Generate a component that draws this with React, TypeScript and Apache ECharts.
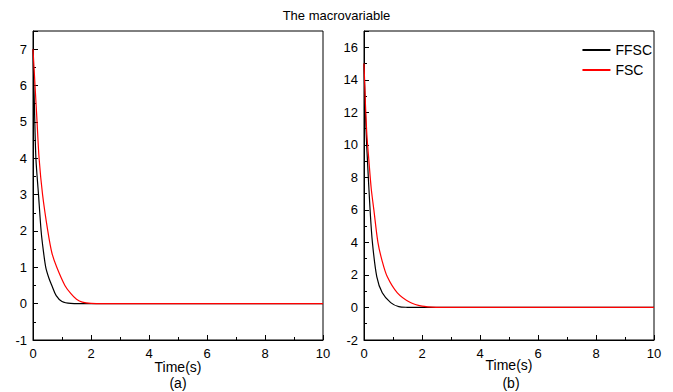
import React, { useEffect, useRef } from "react";
import * as echarts from "echarts";

const titleText = "The macrovariable";
const seriesNames = ["FFSC", "FSC"];

// Panel (a): time (s), value
const ffscA: [number, number][] = [
  [0, 7], [0.05, 5.4], [0.1, 4.0], [0.19, 3.0], [0.28, 2.0], [0.35, 1.5], [0.44, 1.0],
  [0.55, 0.7], [0.65, 0.5], [0.8, 0.22], [1.0, 0.06], [1.3, 0.01], [2, 0], [10, 0],
];
const fscA: [number, number][] = [
  [0, 7], [0.07, 6.0], [0.14, 5.0], [0.21, 4.0], [0.33, 3.0], [0.51, 2.0], [0.65, 1.4],
  [0.82, 1.0], [1.1, 0.5], [1.3, 0.28], [1.5, 0.12], [1.7, 0.04], [2, 0.01], [3, 0], [10, 0],
];

// Panel (b)
const ffscB: [number, number][] = [
  [0, 15], [0.04, 12.5], [0.08, 10.5], [0.12, 9.0], [0.21, 6.0], [0.29, 4.0], [0.44, 1.9],
  [0.63, 0.9], [0.92, 0.3], [1.2, 0.05], [1.5, 0.01], [2, 0], [10, 0],
];
const fscB: [number, number][] = [
  [0, 15], [0.05, 12.5], [0.1, 10.6], [0.17, 9.0], [0.25, 7.3], [0.34, 6.0], [0.48, 4.0],
  [0.62, 2.9], [0.8, 1.9], [1.15, 0.9], [1.6, 0.3], [2.0, 0.08], [2.5, 0.01], [3, 0], [10, 0],
];

const xRange = { min: 0, max: 10, interval: 2 };
const yRangeA = { min: -1, max: 7.5, interval: 1 };
const yRangeB = { min: -2, max: 17, interval: 2 };
const xAxisTitle = "Time(s)";
const panelTags = ["(a)", "(b)"];

const FONT = 'Arial, "Liberation Sans", sans-serif';

export default function App() {
  const ref = useRef<HTMLDivElement>(null);
  useEffect(() => {
    document.body.style.margin = "0";
    if (!ref.current) return;
    const chart = echarts.init(ref.current, undefined, { renderer: "svg" });

    const xAxisBase = (gridIndex: number) => ({
      type: "value" as const,
      gridIndex,
      min: xRange.min,
      max: xRange.max,
      interval: xRange.interval,
      axisLine: { show: true, onZero: false, lineStyle: { color: "#000", width: 1 } },
      axisTick: { show: true, inside: true, length: 5, lineStyle: { color: "#000" } },
      minorTick: { show: true, splitNumber: 2, length: 3, lineStyle: { color: "#000" } },
      axisLabel: { color: "#000", fontSize: 13, fontFamily: FONT, margin: 7 },
      splitLine: { show: false },
      minorSplitLine: { show: false },
    });
    const yAxisBase = (gridIndex: number, r: { min: number; max: number; interval: number }) => ({
      type: "value" as const,
      gridIndex,
      min: r.min,
      max: r.max,
      interval: r.interval,
      axisLine: { show: true, onZero: false, lineStyle: { color: "#000", width: 1 } },
      axisTick: { show: true, inside: true, length: 5, lineStyle: { color: "#000" } },
      minorTick: { show: true, splitNumber: 2, length: 3, lineStyle: { color: "#000" } },
      axisLabel: {
        color: "#000",
        fontSize: 13,
        fontFamily: FONT,
        margin: 6,
        showMaxLabel: false,
      },
      splitLine: { show: false },
      minorSplitLine: { show: false },
    });

    const gridBase = {
      top: 31,
      width: 290,
      height: 309,
      show: true,
      borderColor: "#000",
      borderWidth: 1,
      backgroundColor: "transparent",
      containLabel: false,
      outerBoundsMode: "none",
    };

    const textEl = (x: number, y: number, text: string) => ({
      type: "text",
      x,
      y,
      style: {
        text,
        fill: "#000",
        fontSize: 14,
        fontFamily: FONT,
        align: "center",
        verticalAlign: "middle",
      },
    });

    chart.setOption({
      animation: false,
      backgroundColor: "#fff",
      title: {
        text: titleText,
        left: "center",
        top: 4,
        textStyle: { color: "#000", fontSize: 13, fontWeight: "normal", fontFamily: FONT },
      },
      legend: {
        data: seriesNames,
        orient: "vertical",
        right: 16,
        top: 38,
        icon: "rect",
        itemWidth: 28,
        itemHeight: 2,
        itemGap: 6,
        textStyle: { color: "#000", fontSize: 14, fontFamily: FONT, lineHeight: 14 },
      },
      grid: [
        { ...gridBase, left: 33 },
        { ...gridBase, left: 364 },
      ],
      xAxis: [xAxisBase(0), xAxisBase(1)],
      yAxis: [yAxisBase(0, yRangeA), yAxisBase(1, yRangeB)],
      graphic: [
        textEl(178, 367, xAxisTitle),
        textEl(178, 383, panelTags[0]),
        textEl(509, 365, xAxisTitle),
        textEl(511, 383, panelTags[1]),
      ],
      series: [
        { name: seriesNames[0], type: "line", xAxisIndex: 0, yAxisIndex: 0, data: ffscA, symbol: "none", smooth: 0.3, lineStyle: { color: "#000", width: 1.2 }, itemStyle: { color: "#000" } },
        { name: seriesNames[1], type: "line", xAxisIndex: 0, yAxisIndex: 0, data: fscA, symbol: "none", smooth: 0.3, lineStyle: { color: "#ff0000", width: 1.2 }, itemStyle: { color: "#ff0000" } },
        { name: seriesNames[0], type: "line", xAxisIndex: 1, yAxisIndex: 1, data: ffscB, symbol: "none", smooth: 0.3, lineStyle: { color: "#000", width: 1.2 }, itemStyle: { color: "#000" } },
        { name: seriesNames[1], type: "line", xAxisIndex: 1, yAxisIndex: 1, data: fscB, symbol: "none", smooth: 0.3, lineStyle: { color: "#ff0000", width: 1.2 }, itemStyle: { color: "#ff0000" } },
      ],
    });
    return () => chart.dispose();
  }, []);
  return <div ref={ref} style={{ width: 673, height: 392 }} />;
}
